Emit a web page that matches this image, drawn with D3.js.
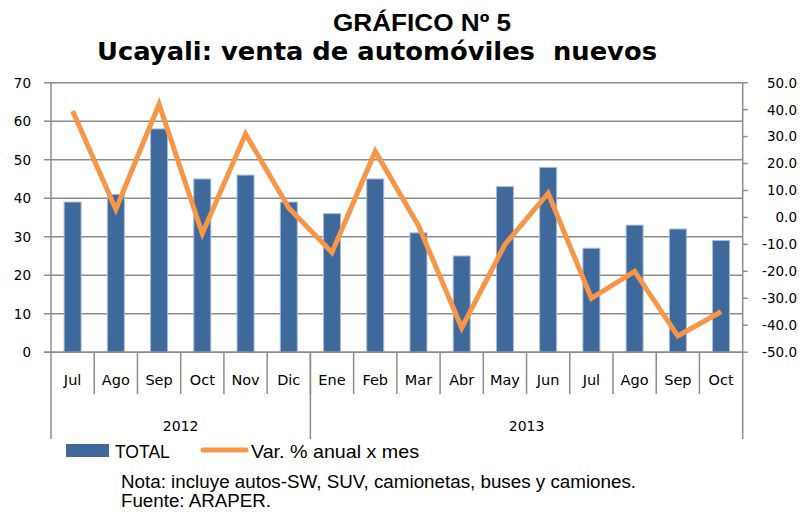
<!DOCTYPE html>
<html>
<head>
<meta charset="utf-8">
<script src="https://cdn.jsdelivr.net/npm/d3@7"></script>
<style>
  body { margin: 0; background: #fff; }
  svg { display: block; }
</style>
</head>
<body>
<div id="chart"></div>
<script>
const months = ["Jul", "Ago", "Sep", "Oct", "Nov", "Dic", "Ene", "Feb", "Mar", "Abr", "May", "Jun", "Jul", "Ago", "Sep", "Oct"];
const years = [{ label: "2012", count: 6 }, { label: "2013", count: 10 }];
const totals = [39, 41, 58, 45, 46, 39, 36, 45, 31, 25, 43, 48, 27, 33, 32, 29];
const variation = [39.5, 3, 42, -6, 31, 3.5, -13, 24.5, -3, -41, -10, 9, -30, -20, -44, -35];
const leftTicks = [0, 10, 20, 30, 40, 50, 60, 70];
const rightTicks = [-50, -40, -30, -20, -10, 0, 10, 20, 30, 40, 50];

const main = function() {
  const width = 802, height = 512;
  const left = 51, right = 742.7, top = 82.7, bottom = 352.2;
  const grid = "#8c8c8c";

  const svg = d3.select("#chart").append("svg")
    .attr("width", width)
    .attr("height", height);

  const idx = months.map((m, i) => i);
  const x = d3.scaleBand().domain(idx).range([left, right]);
  const yL = d3.scaleLinear().domain([0, 70]).range([bottom, top]);
  const yR = d3.scaleLinear().domain([-50, 50]).range([bottom, top]);

  // titles
  svg.append("text")
    .attr("x", 422).attr("y", 31)
    .attr("text-anchor", "middle")
    .attr("textLength", 178)
    .attr("lengthAdjust", "spacingAndGlyphs")
    .style("font-family", "'Liberation Sans', Arial, sans-serif")
    .style("font-weight", "bold")
    .style("font-size", "24px")
    .text("GRÁFICO Nº 5");
  svg.append("text")
    .attr("x", 377).attr("y", 60)
    .attr("text-anchor", "middle")
    .attr("textLength", 560)
    .attr("lengthAdjust", "spacingAndGlyphs")
    .style("font-family", "'DejaVu Sans', sans-serif")
    .style("font-weight", "bold")
    .style("font-size", "24px")
    .style("white-space", "pre")
    .text("Ucayali: venta de automóviles  nuevos");

  // horizontal gridlines (left axis)
  svg.selectAll(".grid").data(leftTicks).enter().append("line")
    .attr("x1", left - 7).attr("x2", right)
    .attr("y1", d => yL(d)).attr("y2", d => yL(d))
    .style("stroke", grid).style("stroke-width", 1.5);

  // left labels
  svg.selectAll(".ll").data(leftTicks).enter().append("text")
    .attr("x", 31).attr("y", d => yL(d))
    .attr("dy", "0.36em")
    .attr("text-anchor", "end")
    .style("font-family", "'DejaVu Sans', sans-serif")
    .style("font-size", "13.5px")
    .text(d => d);

  // right axis ticks and labels
  svg.selectAll(".rt").data(rightTicks).enter().append("line")
    .attr("x1", right).attr("x2", right + 5)
    .attr("y1", d => yR(d)).attr("y2", d => yR(d))
    .style("stroke", grid).style("stroke-width", 1.5);
  svg.selectAll(".rl").data(rightTicks).enter().append("text")
    .attr("x", 797).attr("y", d => yR(d))
    .attr("dy", "0.36em")
    .attr("text-anchor", "end")
    .style("font-family", "'DejaVu Sans', sans-serif")
    .style("font-size", "13.5px")
    .text(d => d.toFixed(1));

  // vertical axes
  svg.append("line").attr("x1", left).attr("x2", left).attr("y1", top).attr("y2", 439)
    .style("stroke", grid).style("stroke-width", 1.5);
  svg.append("line").attr("x1", right).attr("x2", right).attr("y1", top).attr("y2", 439)
    .style("stroke", grid).style("stroke-width", 1.5);

  // category separators
  svg.selectAll(".sep").data(idx.slice(1)).enter().append("line")
    .attr("x1", d => x(d)).attr("x2", d => x(d))
    .attr("y1", bottom).attr("y2", 394)
    .style("stroke", grid).style("stroke-width", 1.5);

  // year separators and labels
  let acc = 0;
  const yearPos = years.map(y => {
    const start = acc;
    acc += y.count;
    return { label: y.label, x0: x(start), x1: start + y.count < months.length ? x(start + y.count) : right };
  });
  svg.selectAll(".ysep").data(yearPos.slice(0, -1)).enter().append("line")
    .attr("x1", d => d.x1).attr("x2", d => d.x1)
    .attr("y1", bottom).attr("y2", 439)
    .style("stroke", grid).style("stroke-width", 1.5);
  svg.selectAll(".yl").data(yearPos).enter().append("text")
    .attr("x", d => (d.x0 + d.x1) / 2).attr("y", 426)
    .attr("dy", "0.36em")
    .attr("text-anchor", "middle")
    .style("font-family", "'DejaVu Sans', sans-serif")
    .style("font-size", "14px")
    .text(d => d.label);

  // month labels
  svg.selectAll(".ml").data(months).enter().append("text")
    .attr("x", (d, i) => x(i) + x.bandwidth() / 2).attr("y", 380)
    .attr("dy", "0.36em")
    .attr("text-anchor", "middle")
    .style("font-family", "'DejaVu Sans', sans-serif")
    .style("font-size", "14.5px")
    .text(d => d);

  // bars
  const bw = 17;
  svg.selectAll(".bar").data(totals).enter().append("rect")
    .attr("x", (d, i) => x(i) + x.bandwidth() / 2 - bw / 2)
    .attr("y", d => yL(d))
    .attr("width", bw)
    .attr("height", d => bottom - yL(d))
    .style("fill", "#3f689b")
    .style("stroke", "#a8bcd6")
    .style("stroke-width", 1);

  // redraw x-axis baseline over bars
  svg.append("line").attr("x1", left - 7).attr("x2", right).attr("y1", bottom).attr("y2", bottom)
    .style("stroke", grid).style("stroke-width", 1.5);

  // line
  const line = d3.line()
    .x((d, i) => x(i) + x.bandwidth() / 2)
    .y(d => yR(d));
  svg.append("path").datum(variation)
    .attr("d", line)
    .style("fill", "none")
    .style("stroke", "#f79646")
    .style("stroke-width", 5)
    .style("stroke-linejoin", "miter");

  // legend
  svg.append("rect").attr("x", 66).attr("y", 444).attr("width", 43).attr("height", 13)
    .style("fill", "#3f689b");
  svg.append("text").attr("x", 115).attr("y", 458)
    .style("font-family", "'Liberation Sans', Arial, sans-serif")
    .style("font-size", "17.5px")
    .text("TOTAL");
  svg.append("line").attr("x1", 203).attr("x2", 246).attr("y1", 450).attr("y2", 450)
    .style("stroke", "#f79646").style("stroke-width", 5).style("stroke-linecap", "round");
  svg.append("text").attr("x", 251).attr("y", 458)
    .attr("textLength", 168)
    .attr("lengthAdjust", "spacingAndGlyphs")
    .style("font-family", "'Liberation Sans', Arial, sans-serif")
    .style("font-size", "18.5px")
    .text("Var. % anual x mes");

  // notes
  svg.append("text").attr("x", 121).attr("y", 488)
    .attr("textLength", 515)
    .attr("lengthAdjust", "spacingAndGlyphs")
    .style("font-family", "'Liberation Sans', Arial, sans-serif")
    .style("font-size", "17.5px")
    .text("Nota: incluye autos-SW, SUV, camionetas, buses y camiones.");
  svg.append("text").attr("x", 121).attr("y", 507)
    .attr("textLength", 150)
    .attr("lengthAdjust", "spacingAndGlyphs")
    .style("font-family", "'Liberation Sans', Arial, sans-serif")
    .style("font-size", "17.5px")
    .text("Fuente: ARAPER.");
};

window.onload = main;
</script>
</body>
</html>
